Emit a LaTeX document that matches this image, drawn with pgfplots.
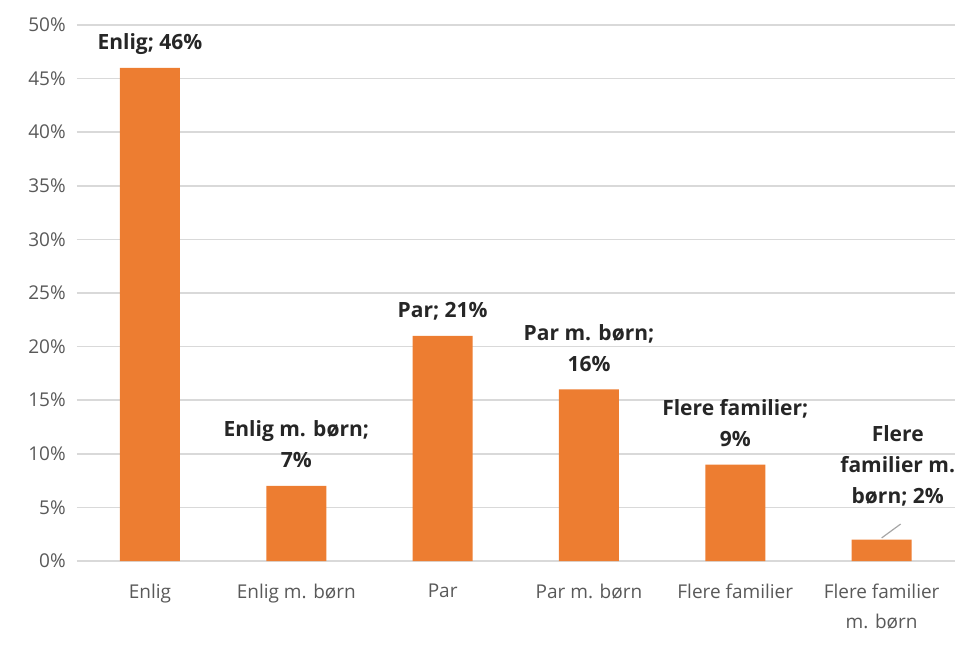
\documentclass[border=0pt]{standalone}
\usepackage{fontspec}
\setmainfont{Open Sans}
\usepackage{pgfplots}
\pgfplotsset{compat=1.18}
\definecolor{barorange}{HTML}{ED7D31}
\definecolor{gridgray}{HTML}{D9D9D9}
\definecolor{ticktext}{HTML}{595959}
\definecolor{labeltext}{HTML}{262626}
\begin{document}
\begin{tikzpicture}
\begin{axis}[
  scale only axis,
  width=439pt, height=268pt,
  xmin=-0.5, xmax=5.5,
  ymin=0, ymax=50,
  axis line style={draw=none},
  ymajorgrids,
  grid style={gridgray, line width=0.75pt},
  major tick length=0pt,
  xtick={0,1,2,3,4,5},
  xticklabels={Enlig, Enlig m. børn, Par, Par m. børn, Flere familier, {Flere familier\\m. børn}},
  xticklabel style={align=center, font={\fontsize{9.5}{15}\selectfont}, text=ticktext, yshift=-8pt},
  ytick={0,5,...,50},
  yticklabels={0\%,5\%,10\%,15\%,20\%,25\%,30\%,35\%,40\%,45\%,50\%},
  yticklabel style={font={\fontsize{9.5}{12}\selectfont}, text=ticktext, xshift=-2pt},
  clip=false,
]
\addplot[ybar, bar width=30pt, fill=barorange, draw=none, bar shift=0pt]
  coordinates {(0,46) (1,7) (2,21) (3,16) (4,9) (5,2)};
\addplot[gray!70, line width=0.6pt] coordinates {(5.0,2.15) (5.13,3.45)};
\begin{scope}[every node/.style={anchor=south, align=center, inner sep=0pt, text depth=3pt, text=labeltext, font={\fontsize{10.5}{15.5}\selectfont\bfseries}}]
\node[yshift=6pt] at (axis cs:0,46) {Enlig; 46\%};
\node[yshift=6pt] at (axis cs:1,7) {Enlig m. børn;\\7\%};
\node[yshift=6pt] at (axis cs:2,21) {Par; 21\%};
\node[yshift=6pt] at (axis cs:3,16) {Par m. børn;\\16\%};
\node[yshift=6pt] at (axis cs:4,9) {Flere familier;\\9\%};
\node[yshift=14.8pt] at (axis cs:5.11,2) {Flere\\familier m.\\børn; 2\%};
\end{scope}
\end{axis}
\pgfresetboundingbox
\path (current axis.south west) ++(-38.4pt,-43.5pt) rectangle ++(482pt,324pt);
\end{tikzpicture}
\end{document}
